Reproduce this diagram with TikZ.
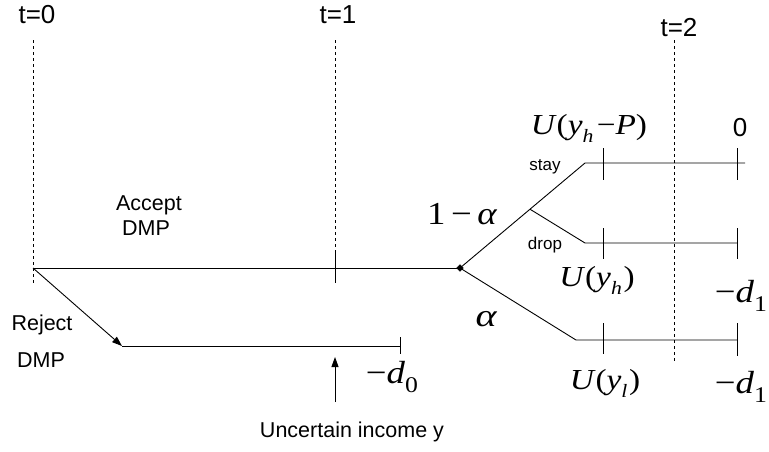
\documentclass[tikz,border=0pt]{standalone}
\usepackage{fontspec}
\usepackage{graphicx}
\setmainfont{Liberation Sans}
\newfontfamily\tms{Liberation Serif}
\usetikzlibrary{arrows.meta,shapes.geometric,calc}
\newcommand\ti[1]{{\tms\itshape #1}}
\newcommand\tu[1]{{\tms #1}}
\newcommand\lsub[1]{\raisebox{-0.28em}{\scalebox{0.65}{\ti{#1}}}}
\newcommand\lsubu[1]{\raisebox{-0.28em}{\scalebox{0.7}{\tu{#1}}}}
\newcommand\wide[2]{\scalebox{#1}[1]{#2}}
\begin{document}
\begin{tikzpicture}[x=1pt,y=-1pt,
  tlab/.style={font=\fontsize{26}{29}\selectfont, inner sep=0pt},
  txt/.style={font=\fontsize{21.5}{24}\selectfont, inner sep=0pt},
  smalltxt/.style={font=\fontsize{17}{19}\selectfont, inner sep=0pt},
  ulab/.style={font=\fontsize{29}{32}\selectfont, inner sep=0pt},
  biglab/.style={font=\fontsize{32}{34}\selectfont, inner sep=0pt},
  ln/.style={line width=0.9pt},
  dsh/.style={line width=0.9pt, dash pattern=on 3pt off 3pt},
  arr/.style={line width=0.9pt, -{Triangle[length=10pt,width=7pt]}},
  dmd/.style={diamond, fill=black, draw=black, inner sep=0pt, minimum size=7pt}
]
\useasboundingbox (0,0) rectangle (769,451);

% time markers
\node[tlab] (t0) at (37,15) {t=0};
\node[tlab] (t1) at (338,15) {t=1};
\node[tlab] (t2) at (679,28) {t=2};

\coordinate (d0a) at (33,40);  \coordinate (d0b) at (33,283);
\coordinate (d1a) at (335,40); \coordinate (d1b) at (335,253);
\coordinate (d2a) at (674,40); \coordinate (d2b) at (674,363);
\draw[dsh] (d0a) -- (d0b);
\draw[dsh] (d1a) -- (d1b);
\draw[dsh] (d2a) -- (d2b);

% main (accept) line
\coordinate (start) at (33,268);
\node[dmd] (chance) at (460,268) {};
\draw[ln] (start) -- (chance.center);
\coordinate (tk1a) at (335,253); \coordinate (tk1b) at (335,283);
\draw[ln] (tk1a) -- (tk1b);

% reject branch
\coordinate (rj) at (122,346);
\coordinate (rjend) at (400,346);
\draw[arr] (start) -- (rj);
\draw[ln] (rj) -- (rjend);
\coordinate (rjta) at (400,337); \coordinate (rjtb) at (400,354);
\draw[ln] (rjta) -- (rjtb);

% uncertain income arrow
\coordinate (ua) at (335,402); \coordinate (ub) at (335,357);
\draw[arr] (ua) -- (ub);

% upper branch (1-alpha)
\coordinate (up) at (585,163);
\coordinate (upend) at (745,163);
\draw[ln] (chance.center) -- (up) -- (upend);
\coordinate (ut1a) at (603,148); \coordinate (ut1b) at (603,180);
\coordinate (ut2a) at (737,148); \coordinate (ut2b) at (737,180);
\draw[ln] (ut1a) -- (ut1b);
\draw[ln] (ut2a) -- (ut2b);

% drop branch
\coordinate (dropstart) at ($(chance.center)!0.56!(up)$);
\coordinate (dp) at (585,243);
\coordinate (dpend) at (737,243);
\draw[ln] (dropstart) -- (dp) -- (dpend);
\coordinate (dt1a) at (603,228); \coordinate (dt1b) at (603,259);
\coordinate (dt2a) at (737,228); \coordinate (dt2b) at (737,259);
\draw[ln] (dt1a) -- (dt1b);
\draw[ln] (dt2a) -- (dt2b);

% lower branch (alpha)
\coordinate (lo) at (576,340);
\coordinate (loend) at (737,340);
\draw[ln] (chance.center) -- (lo) -- (loend);
\coordinate (lt1a) at (603,323); \coordinate (lt1b) at (603,354);
\coordinate (lt2a) at (737,323); \coordinate (lt2b) at (737,356);
\draw[ln] (lt1a) -- (lt1b);
\draw[ln] (lt2a) -- (lt2b);

% text labels
\node[txt] (acc1) at (149,205) {Accept};
\node[txt] (acc2) at (146,228) {DMP};
\node[txt] (rej1) at (42,325) {Reject};
\node[txt] (rej2) at (41,360) {DMP};
\node[txt] (unc) at (352,432) {Uncertain income y};
\node[smalltxt] (stay) at (545,167) {stay};
\node[smalltxt] (drop) at (545,245) {drop};

% math labels
\node[biglab] (oma) at (462,214) {\wide{1.15}{\tu{1}\hspace{0.15em}\tu{−}\hspace{0.15em}\ti{α}}};
\node[biglab] (alp) at (486,319) {\wide{1.25}{\ti{α}}};
\node[ulab] (uyhp) at (589,128) {\wide{1.15}{\ti{U}\hspace{0.05em}\tu{(}\ti{y}\lsub{h}\hspace{0.1em}\tu{−}\ti{P}\tu{)}}};
\node[tlab] (zero) at (740,128) {0};
\node[ulab] (uyh) at (597,280) {\wide{1.15}{\ti{U}\hspace{0.05em}\tu{(}\ti{y}\lsub{h}\hspace{0.05em}\tu{)}}};
\node[ulab] (uyl) at (605,383) {\wide{1.15}{\ti{U}\hspace{0.05em}\tu{(}\ti{y}\lsub{l}\hspace{0.05em}\tu{)}}};
\node[biglab] (md1a) at (741,296) {\wide{1.15}{\tu{−}\ti{d}\lsubu{1}}};
\node[biglab] (md1b) at (741,387) {\wide{1.15}{\tu{−}\ti{d}\lsubu{1}}};
\node[biglab] (md0) at (392,377) {\wide{1.15}{\tu{−}\ti{d}\lsubu{0}}};
\end{tikzpicture}
\end{document}
